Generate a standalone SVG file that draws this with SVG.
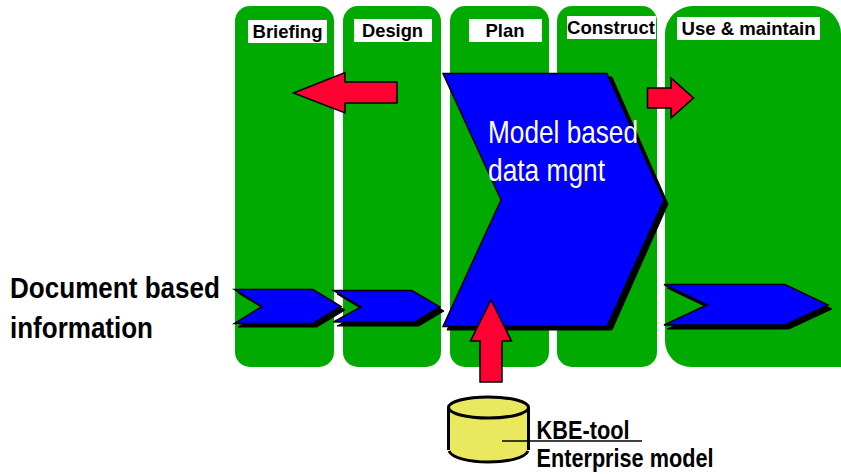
<svg xmlns="http://www.w3.org/2000/svg" width="841" height="474" viewBox="0 0 841 474">
<style>
.col{fill:#00aa00}
.lbl{fill:#fff}
.t{font-family:"Liberation Sans",Arial,sans-serif;font-weight:bold;fill:#000}
.h{font-size:18.500px;text-anchor:middle}
.b{font-size:30px}
.k{font-size:26px}
.m{font-family:"Liberation Sans",Arial,sans-serif;font-size:32px;fill:#fff}
.sh{fill:#000;stroke:#000;stroke-width:1}
.blue{fill:#0000ff;stroke:#000;stroke-width:1.500}
.red{fill:#ff0033;stroke:#000;stroke-width:1.500}
.cyl{fill:#eae85e}
.cs{fill:none;stroke:#000;stroke-width:3}
</style>
<g id="phase-briefing"><rect class="col" x="235" y="6" width="99" height="361" rx="15"/><rect class="lbl" x="248" y="20" width="79" height="23"/><text class="t h" x="287.500" y="37.500" textLength="70" lengthAdjust="spacingAndGlyphs">Briefing</text></g>
<g id="phase-design"><rect class="col" x="343" y="6" width="98" height="361" rx="15"/><rect class="lbl" x="354" y="19" width="78" height="23"/><text class="t h" x="392.500" y="37" textLength="61" lengthAdjust="spacingAndGlyphs">Design</text></g>
<g id="phase-plan"><rect class="col" x="450" y="6" width="99" height="361" rx="15"/><rect class="lbl" x="469" y="19" width="73" height="23"/><text class="t h" x="505" y="37" textLength="39" lengthAdjust="spacingAndGlyphs">Plan</text></g>
<g id="phase-construct"><rect class="col" x="557" y="6" width="100" height="361" rx="15"/><rect class="lbl" x="567" y="16" width="89" height="23"/><text class="t h" x="611" y="33.500" textLength="88" lengthAdjust="spacingAndGlyphs">Construct</text></g>
<g id="phase-use"><path class="col" d="M841 367H691a26 26 0 0 1-26-26V34a28 28 0 0 1 28-28H813a28 28 0 0 1 28 28Z"/><rect class="lbl" x="677" y="17" width="143" height="23"/><text class="t h" x="748.500" y="35" textLength="134" lengthAdjust="spacingAndGlyphs">Use &amp; maintain</text></g>
<g id="connectors">
<polygon class="red" points="293.500,93 345,72.500 345,82 397,82 397,103 345,103 345,113"/>
<polygon class="red" points="647.500,88 671,88 671,78 693.500,98 671,118 671,108 647.500,108"/>
</g>
<g id="chevron-briefing"><polygon class="sh" points="238,293 317,293 345,310 317,327 238,327 266,310"/><polygon class="blue" points="234.500,289.500 313,289.500 341,306.500 313,323.500 234.500,323.500 262,306.500"/></g>
<g id="chevron-design"><polygon class="sh" points="337,294 416,294 444,311 419,326 337,326 365,311"/><polygon class="blue" points="333.500,290.500 412,290.500 440,307 415,322 333.500,322 361,307"/></g>
<g id="chevron-use"><polygon class="sh" points="667,288 789,288 832,309 789,329 667,329 711,309"/><polygon class="blue" points="664,284.500 785,284.500 828,305 785,325 664,325 707,305"/></g>
<g id="model-based"><polygon class="sh" points="447,77 612,77 668,204 612,330 447,330 505,204"/><polygon class="blue" points="443,73.500 607,73.500 664,200 607,326.500 443,326.500 501,200"/>
<text class="m" textLength="150" lengthAdjust="spacingAndGlyphs" x="488" y="143">Model based</text>
<text class="m" textLength="117" lengthAdjust="spacingAndGlyphs" x="488" y="181">data mgnt</text></g>
<g id="input-arrow"><polygon class="red" points="491,300 511.500,341 502,341 502,382 480,382 480,341 470.500,341"/></g>
<g id="database">
<path class="cyl" d="M449 407.500V450C449 457 467 462 488.500 462S528 457 528 450V407.500Z"/>
<ellipse class="cyl" cx="488.500" cy="407.500" rx="40" ry="10.500"/>
<ellipse class="cs" cx="488.500" cy="407.500" rx="40" ry="10.500"/>
<path class="cs" d="M448.500 407.500V450M528.500 407.500V450M449 451C452 458 469 462 488.500 462S525 458 528 451"/>
<line x1="502" y1="441" x2="642" y2="441" stroke="#000" stroke-width="1.500"/>
<text class="t k" x="536.500" y="439" textLength="93" lengthAdjust="spacingAndGlyphs">KBE-tool</text>
<text class="t k" x="536.500" y="467" textLength="177" lengthAdjust="spacingAndGlyphs">Enterprise model</text>
</g>
<g id="document-label">
<text class="t b" x="10" y="298" textLength="210" lengthAdjust="spacingAndGlyphs">Document based</text>
<text class="t b" x="10" y="338" textLength="143" lengthAdjust="spacingAndGlyphs">information</text>
</g>
</svg>
